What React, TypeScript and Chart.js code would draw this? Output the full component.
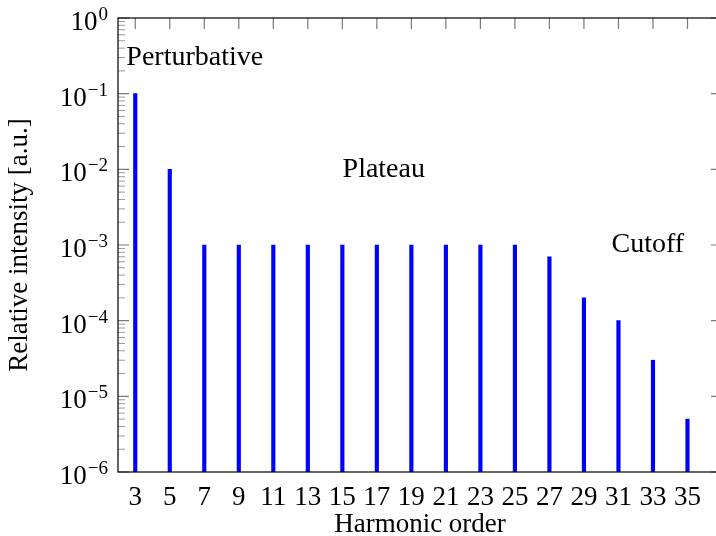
import React, { useEffect, useRef } from "react";
import { Chart, registerables } from "chart.js";

Chart.register(...registerables);

// Harmonic spectrum: odd orders and their relative intensities
const harmonicOrders = [3, 5, 7, 9, 11, 13, 15, 17, 19, 21, 23, 25, 27, 29, 31, 33, 35];
const relativeIntensity = [
  1e-1, 1e-2, 1e-3, 1e-3, 1e-3, 1e-3, 1e-3, 1e-3, 1e-3, 1e-3, 1e-3, 1e-3, 7e-4, 2e-4, 1e-4, 3e-5, 5e-6,
];

// Axis ticks
const xTickValues = [3, 5, 7, 9, 11, 13, 15, 17, 19, 21, 23, 25, 27, 29, 31, 33, 35];
const yDecadeTicks = [1e-6, 1e-5, 1e-4, 1e-3, 1e-2, 1e-1, 1];

// Region labels placed in data coordinates
const regionLabels = ["Perturbative", "Plateau", "Cutoff"];
const regionLabelX = [6.45, 17.4, 32.7];
const regionLabelY = [0.3, 1e-2, 1e-3];

const FONT = '"Liberation Serif", "Times New Roman", serif';

const axisDecor = {
  id: "axisDecor",
  beforeDatasetsDraw(chart: any) {
    const { ctx, chartArea, scales } = chart;
    const { left, top, right, bottom } = chartArea;
    const x = scales.x;
    const y = scales.y;
    ctx.save();
    // major ticks, pointing into the plot on every side
    ctx.strokeStyle = "#7a7a7a";
    ctx.lineWidth = 1.2;
    ctx.beginPath();
    for (const t of x.ticks) {
      const px = x.getPixelForValue(t.value);
      ctx.moveTo(px, top);
      ctx.lineTo(px, top + 11);
      ctx.moveTo(px, bottom);
      ctx.lineTo(px, bottom - 11);
    }
    for (const t of y.ticks) {
      const py = y.getPixelForValue(t.value);
      ctx.moveTo(left, py);
      ctx.lineTo(left + 11, py);
      ctx.moveTo(right, py);
      ctx.lineTo(right - 11, py);
    }
    ctx.stroke();
    // minor log ticks
    ctx.strokeStyle = "#9a9a9a";
    ctx.lineWidth = 1;
    ctx.beginPath();
    for (let e = -6; e < 0; e++) {
      for (let m = 2; m <= 9; m++) {
        const py = y.getPixelForValue(m * Math.pow(10, e));
        ctx.moveTo(left, py);
        ctx.lineTo(left + 7, py);
        ctx.moveTo(right, py);
        ctx.lineTo(right - 6, py);
      }
    }
    ctx.stroke();
    ctx.restore();
  },
  afterDatasetsDraw(chart: any) {
    const { ctx, chartArea, scales } = chart;
    const { left, top, right, bottom } = chartArea;
    const x = scales.x;
    const y = scales.y;
    ctx.save();
    // frame
    ctx.strokeStyle = "#000";
    ctx.lineWidth = 1.2;
    ctx.strokeRect(left, top, right - left, bottom - top);

    // y tick labels as powers of ten
    ctx.fillStyle = "#000";
    ctx.textBaseline = "alphabetic";
    ctx.textAlign = "right";
    const labelRight = left - 10;
    for (const t of y.ticks) {
      const py = y.getPixelForValue(t.value);
      const e = Math.round(Math.log10(t.value));
      const exp = e === 0 ? "0" : "\u2212" + Math.abs(e);
      ctx.font = `19px ${FONT}`;
      const expW = ctx.measureText(exp).width;
      ctx.fillText(exp, labelRight, py + 2);
      ctx.font = `27px ${FONT}`;
      ctx.fillText("10", labelRight - expW - 1, py + 12);
    }

    // region labels
    ctx.font = `28px ${FONT}`;
    ctx.textAlign = "center";
    ctx.textBaseline = "middle";
    regionLabels.forEach((txt, i) => {
      ctx.fillText(txt, x.getPixelForValue(regionLabelX[i]), y.getPixelForValue(regionLabelY[i]));
    });
    ctx.restore();
  },
};

export default function App() {
  const canvasRef = useRef<HTMLCanvasElement | null>(null);

  useEffect(() => {
    const canvas = canvasRef.current;
    if (!canvas) return;
    const chart = new Chart(canvas, {
      type: "bar",
      data: {
        datasets: [
          {
            data: harmonicOrders.map((h, i) => ({ x: h, y: relativeIntensity[i] })),
            backgroundColor: "#0000ff",
            borderWidth: 0,
            barThickness: 3.5,
          },
        ],
      },
      options: {
        responsive: false,
        animation: false,
        devicePixelRatio: 1,
        layout: { padding: { top: 18, right: 8, left: 0, bottom: 0 } },
        plugins: { legend: { display: false }, tooltip: { enabled: false } },
        scales: {
          x: {
            type: "linear",
            min: 2,
            max: 37,
            offset: false,
            grid: { display: false },
            border: { display: false },
            afterBuildTicks: (s: any) => {
              s.ticks = xTickValues.map((v) => ({ value: v }));
            },
            afterFit: (s: any) => {
              s.height = 64;
            },
            ticks: {
              autoSkip: false,
              maxRotation: 0,
              padding: 2,
              color: "#000",
              font: { family: FONT, size: 27 },
              callback: (v: any) => String(v),
            },
            title: {
              display: true,
              text: "Harmonic order",
              color: "#000",
              font: { family: FONT, size: 27, lineHeight: 0.8 },
              padding: 0,
            },
          },
          y: {
            type: "logarithmic",
            min: 1e-6,
            max: 1,
            grid: { display: false },
            border: { display: false },
            afterBuildTicks: (s: any) => {
              s.ticks = yDecadeTicks.map((v) => ({ value: v }));
            },
            afterFit: (s: any) => {
              s.width = 118;
            },
            ticks: { display: false },
            title: {
              display: true,
              text: "Relative intensity [a.u.]",
              color: "#000",
              font: { family: FONT, size: 27 },
              padding: { top: 4, bottom: 0 },
            },
          },
        },
      } as any,
      plugins: [axisDecor],
    });
    return () => chart.destroy();
  }, []);

  return (
    <div
      style={{
        position: "absolute",
        left: 0,
        top: 0,
        width: 716,
        height: 536,
        overflow: "hidden",
        background: "#fff",
      }}
    >
      <canvas ref={canvasRef} width={730} height={536} style={{ display: "block" }} />
    </div>
  );
}
